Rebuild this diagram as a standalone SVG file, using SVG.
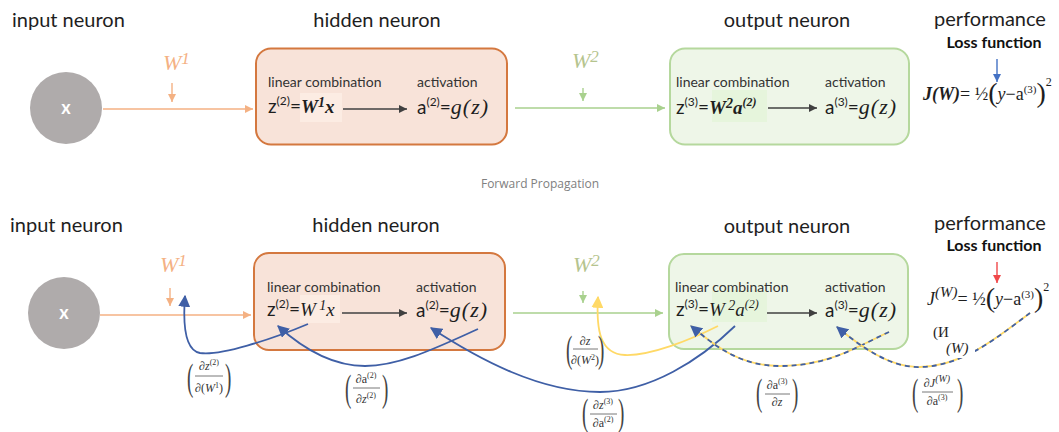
<svg xmlns="http://www.w3.org/2000/svg" width="1059" height="432" viewBox="0 0 1059 432">
<style>
.hdr{font-family:Lato,"Open Sans",sans-serif;font-size:20px;fill:#1e1e1e}
.loss{font-family:Lato,"Open Sans",sans-serif;font-size:16px;font-weight:bold;fill:#111}
.sub{font-family:Lato,"Open Sans",sans-serif;font-size:14px;fill:#333}
.eq{font-family:Lato,"Open Sans",sans-serif;font-size:19px;fill:#1e1e1e}
.sup{font-size:12px}
.mi{font-family:"Liberation Serif",serif;font-style:italic}
.mb{font-family:"Liberation Serif",serif;font-style:italic;font-weight:bold}
.ser{font-family:"Liberation Serif",serif;fill:#1e1e1e}
.lbl{font-family:"Liberation Serif",serif;font-size:12px;fill:#333}
.par{font-family:"Liberation Serif",serif;font-size:38px;fill:#444}
.w1{font-family:"Liberation Serif",serif;font-style:italic;font-size:22px;fill:#f4b183}
.w2{font-family:"Liberation Serif",serif;font-style:italic;font-size:22px;fill:#b5c48e}
.hbox{fill:#f8e3d9;stroke:#d4783f;stroke-width:2}
.obox{fill:#eef6e8;stroke:#b5d89d;stroke-width:2}
.neuron{fill:#afabab}
.xl{font-family:Lato,sans-serif;font-size:18px;font-weight:bold;fill:#fff;text-anchor:middle}
.fl{stroke:#555;stroke-width:0.8}
.blue{fill:none;stroke:#3f5fa6;stroke-width:1.8}
.yel{fill:none;stroke:#ffd966;stroke-width:1.8}
.dash{fill:none;stroke:#3f5fa6;stroke-width:1.8;stroke-dasharray:5 4}
</style>
<defs>
<marker id="aOr" viewBox="0 0 10 10" refX="10" refY="5" markerWidth="8" markerHeight="8" markerUnits="userSpaceOnUse" orient="auto"><path d="M0,0L10,5L0,10z" fill="#f4b183"/></marker>
<marker id="aGr" viewBox="0 0 10 10" refX="10" refY="5" markerWidth="8" markerHeight="8" markerUnits="userSpaceOnUse" orient="auto"><path d="M0,0L10,5L0,10z" fill="#a9d18e"/></marker>
<marker id="aDk" viewBox="0 0 10 10" refX="10" refY="5" markerWidth="8" markerHeight="8" markerUnits="userSpaceOnUse" orient="auto"><path d="M0,0L10,5L0,10z" fill="#404040"/></marker>
<marker id="aBl" viewBox="0 0 10 10" refX="10" refY="5" markerWidth="8" markerHeight="8" markerUnits="userSpaceOnUse" orient="auto"><path d="M0,0L10,5L0,10z" fill="#4472c4"/></marker>
<marker id="aRd" viewBox="0 0 10 10" refX="10" refY="5" markerWidth="8" markerHeight="8" markerUnits="userSpaceOnUse" orient="auto"><path d="M0,0L10,5L0,10z" fill="#f0484a"/></marker>
<marker id="aNv" viewBox="0 0 10 10" refX="9" refY="5" markerWidth="12" markerHeight="12" markerUnits="userSpaceOnUse" orient="auto"><path d="M0,0L10,5L0,10z" fill="#3f5fa6"/></marker>
<marker id="aYl" viewBox="0 0 10 10" refX="9" refY="5" markerWidth="12" markerHeight="12" markerUnits="userSpaceOnUse" orient="auto"><path d="M0,0L10,5L0,10z" fill="#ffd966"/></marker>
</defs>
<rect width="1059" height="432" fill="#fff"/>

<!-- TOP: forward propagation -->
<g id="input-top">
<text class="hdr" x="12" y="27">input neuron</text>
<circle class="neuron" cx="66" cy="108" r="36"/>
<text class="xl" x="66" y="114">x</text>
</g>
<g id="w1-top"><text class="w1" x="163" y="70">W<tspan font-size="17" dy="-6">1</tspan></text></g>
<g id="hidden-top">
<text class="hdr" x="377" y="27" text-anchor="middle">hidden neuron</text>
<rect class="hbox" x="256" y="48.5" width="251" height="96" rx="15"/>
<rect x="300" y="93" width="42" height="29" fill="#fcece3"/>
<text class="sub" x="268" y="87">linear combination</text>
<text class="sub" x="417" y="87">activation</text>
<text class="eq" x="268" y="113">z<tspan class="sup" dy="-8">(2)</tspan><tspan dy="8">=</tspan><tspan class="mb">W</tspan><tspan class="mb" font-size="14" dy="-6">1</tspan><tspan class="mb" dy="6">x</tspan></text>
<text class="eq" x="417" y="114">a<tspan class="sup" dy="-8">(2)</tspan><tspan dy="8">=</tspan><tspan class="mi" font-size="22" letter-spacing="1">g(z)</tspan></text>
</g>
<g id="w2-top"><text class="w2" x="572" y="68">W<tspan font-size="17" dy="-6">2</tspan></text></g>
<g id="output-top">
<text class="hdr" x="787" y="27" text-anchor="middle">output neuron</text>
<rect class="obox" x="670" y="48.5" width="239" height="96" rx="15"/>
<rect x="712" y="90" width="55" height="32" fill="#e6f5dc"/>
<text class="sub" x="676" y="87">linear combination</text>
<text class="sub" x="825" y="87">activation</text>
<text class="eq" x="676" y="114">z<tspan class="sup" dy="-8">(3)</tspan><tspan dy="8">=</tspan><tspan class="mb">W</tspan><tspan class="mb" font-size="14" dy="-6">2</tspan><tspan class="mb" dy="6">a</tspan><tspan class="mb sup" dy="-8">(2)</tspan></text>
<text class="eq" x="825" y="114">a<tspan class="sup" dy="-8">(3)</tspan><tspan dy="8">=</tspan><tspan class="mi" font-size="22" letter-spacing="1">g(z)</tspan></text>
</g>
<g id="performance-top">
<text class="hdr" x="990" y="26" text-anchor="middle">performance</text>
<text class="loss" x="994" y="48" text-anchor="middle">Loss function</text>
<text class="ser" x="923" y="100" font-size="18"><tspan font-weight="bold" font-style="italic">J(W)</tspan>= ½<tspan font-size="28" dy="2">(</tspan><tspan font-style="italic" dy="-2">y</tspan>−a<tspan font-size="11" dy="-7">(3)</tspan><tspan font-size="28" dy="9">)</tspan><tspan font-size="12" dy="-16">2</tspan></text>
</g>
<g id="caption"><text x="540" y="188" text-anchor="middle" font-family="'Open Sans',Lato,sans-serif" font-size="12" fill="#808080">Forward Propagation</text></g>

<!-- BOTTOM: back propagation -->
<g id="input-bottom">
<text class="hdr" x="10" y="232">input neuron</text>
<circle class="neuron" cx="64" cy="313" r="36"/>
<text class="xl" x="64" y="319">x</text>
</g>
<g id="w1-bottom"><text class="w1" x="160" y="272">W<tspan font-size="17" dy="-6">1</tspan></text></g>
<g id="hidden-bottom">
<text class="hdr" x="376" y="232" text-anchor="middle">hidden neuron</text>
<rect class="hbox" x="254" y="253" width="251" height="97" rx="15"/>
<rect x="300" y="295" width="40" height="28" fill="#fcece3"/>
<text class="sub" x="267" y="292">linear combination</text>
<text class="sub" x="416" y="292">activation</text>
<text class="eq" x="267" y="316">z<tspan class="sup" dy="-8">(2)</tspan><tspan dy="8">=</tspan><tspan class="mi">W</tspan><tspan class="mi" font-size="14" dy="-6"> 1</tspan><tspan class="mi" dy="6">x</tspan></text>
<text class="eq" x="416" y="317">a<tspan class="sup" dy="-8">(2)</tspan><tspan dy="8">=</tspan><tspan class="mi" font-size="22" letter-spacing="1">g(z)</tspan></text>
</g>
<g id="w2-bottom"><text class="w2" x="573" y="272">W<tspan font-size="17" dy="-6">2</tspan></text></g>
<g id="output-bottom">
<text class="hdr" x="787" y="233" text-anchor="middle">output neuron</text>
<rect class="obox" x="669" y="254" width="239" height="95" rx="15"/>
<rect x="712" y="290" width="55" height="32" fill="#e6f5dc"/>
<text class="sub" x="675" y="292">linear combination</text>
<text class="sub" x="825" y="292">activation</text>
<text class="eq" x="676" y="316">z<tspan class="sup" dy="-8">(3)</tspan><tspan dy="8">=</tspan><tspan class="mi">W</tspan><tspan class="mi" font-size="14" dy="-6"> 2</tspan><tspan class="mi" dy="6">a</tspan><tspan class="mi sup" dy="-8">(2)</tspan></text>
<text class="eq" x="825" y="317">a<tspan class="sup" dy="-8">(3)</tspan><tspan dy="8">=</tspan><tspan class="mi" font-size="22" letter-spacing="1">g(z)</tspan></text>
</g>
<g id="performance-bottom">
<text class="hdr" x="990" y="230" text-anchor="middle">performance</text>
<text class="loss" x="994" y="251" text-anchor="middle">Loss function</text>
<text class="ser" x="927" y="305" font-size="18"><tspan font-style="italic">J</tspan><tspan font-style="italic" font-size="15" dy="-8">(W)</tspan><tspan dy="8">= ½</tspan><tspan font-size="28" dy="2">(</tspan><tspan font-style="italic" dy="-2">y</tspan>−a<tspan font-size="11" dy="-7">(3)</tspan><tspan font-size="28" dy="9">)</tspan><tspan font-size="12" dy="-16">2</tspan></text>
</g>

<!-- connectors -->
<g id="connectors">
<line x1="103" y1="109" x2="253" y2="109" stroke="#f4b183" stroke-width="1.6" marker-end="url(#aOr)"/>
<line x1="172" y1="83" x2="172" y2="102" stroke="#f4b183" stroke-width="1.4" marker-end="url(#aOr)"/>
<line x1="343" y1="109" x2="407" y2="109" stroke="#404040" stroke-width="1.4" marker-end="url(#aDk)"/>
<line x1="515" y1="108" x2="665" y2="108" stroke="#a9d18e" stroke-width="1.6" marker-end="url(#aGr)"/>
<line x1="583" y1="88" x2="583" y2="101" stroke="#a9d18e" stroke-width="1.4" marker-end="url(#aGr)"/>
<line x1="768" y1="108" x2="817" y2="108" stroke="#404040" stroke-width="1.4" marker-end="url(#aDk)"/>
<line x1="997" y1="59" x2="997" y2="82" stroke="#4472c4" stroke-width="1.4" marker-end="url(#aBl)"/>

<line x1="100" y1="315" x2="251" y2="315" stroke="#f4b183" stroke-width="1.6" marker-end="url(#aOr)"/>
<line x1="170" y1="288" x2="170" y2="306" stroke="#f4b183" stroke-width="1.4" marker-end="url(#aOr)"/>
<line x1="342" y1="313" x2="407" y2="313" stroke="#404040" stroke-width="1.4" marker-end="url(#aDk)"/>
<line x1="513" y1="313" x2="663" y2="313" stroke="#a9d18e" stroke-width="1.6" marker-end="url(#aGr)"/>
<line x1="583" y1="291" x2="583" y2="303" stroke="#a9d18e" stroke-width="1.4" marker-end="url(#aGr)"/>
<line x1="767" y1="313" x2="817" y2="313" stroke="#404040" stroke-width="1.4" marker-end="url(#aDk)"/>
<line x1="997" y1="262" x2="997" y2="283" stroke="#f0484a" stroke-width="1.4" marker-end="url(#aRd)"/>

<path class="blue" d="M308,324 C270,340 220,356 200,353 C184,350 183,322 185,296" marker-end="url(#aNv)"/>
<path class="blue" d="M478,329 C440,346 400,366 365,366 C330,366 300,346 278,326" marker-end="url(#aNv)"/>
<path class="blue" d="M735,326 C700,360 650,392 600,392 C540,392 480,360 431,328" marker-end="url(#aNv)"/>
<path class="yel" d="M718,326 C690,340 650,356 625,355 C600,354 596,330 598,297" marker-end="url(#aYl)"/>
<path class="yel" d="M889,332 C860,345 830,366 780,366 C740,366 715,346 691,326"/>
<path class="dash" d="M889,332 C860,345 830,366 780,366 C740,366 715,346 691,326" marker-end="url(#aNv)"/>
<path class="yel" d="M1030,313 C1000,335 965,366 920,367 C890,368 860,346 837,327"/>
<path class="dash" d="M1030,313 C1000,335 965,366 920,367 C890,368 860,346 837,327" marker-end="url(#aNv)"/>
</g>

<!-- stray labels over the curve -->
<g id="stray-labels">
<rect x="944" y="338" width="31" height="20" fill="#fff"/>
<text class="ser" x="933" y="337" font-size="15">(И</text>
<text class="ser" x="946" y="353" font-size="15" font-style="italic">(W)</text>
</g>

<!-- derivative labels -->
<g id="label-dz2-dW1">
<text class="par" transform="translate(187,390) scale(0.5,1)">(</text>
<text class="par" transform="translate(225,390) scale(0.5,1)">)</text>
<text class="lbl" x="209" y="370" text-anchor="middle">∂<tspan font-style="italic">z</tspan><tspan font-size="8" dy="-5">(2)</tspan></text>
<line class="fl" x1="195" y1="376" x2="223" y2="376"/>
<text class="lbl" x="209" y="392" text-anchor="middle">∂(<tspan font-style="italic">W</tspan><tspan font-size="8" dy="-4">1</tspan><tspan dy="4">)</tspan></text>
</g>
<g id="label-da2-dz2">
<text class="par" transform="translate(345,401) scale(0.5,1)">(</text>
<text class="par" transform="translate(382,401) scale(0.5,1)">)</text>
<text class="lbl" x="366" y="383" text-anchor="middle">∂a<tspan font-size="8" dy="-5">(2)</tspan></text>
<line class="fl" x1="353" y1="388" x2="380" y2="388"/>
<text class="lbl" x="366" y="403" text-anchor="middle">∂<tspan font-style="italic">z</tspan><tspan font-size="8" dy="-5">(2)</tspan></text>
</g>
<g id="label-dz-dW2">
<text class="par" transform="translate(566,362) scale(0.5,1)">(</text>
<text class="par" transform="translate(598,362) scale(0.5,1)">)</text>
<text class="lbl" x="585" y="345" text-anchor="middle">∂<tspan font-style="italic">z</tspan></text>
<line class="fl" x1="573" y1="349" x2="598" y2="349"/>
<text class="lbl" x="585" y="364" text-anchor="middle">∂(<tspan font-style="italic">W</tspan><tspan font-size="8" dy="-4">2</tspan><tspan dy="4">)</tspan></text>
</g>
<g id="label-dz3-da2">
<text class="par" transform="translate(582,425) scale(0.5,1)">(</text>
<text class="par" transform="translate(618,425) scale(0.5,1)">)</text>
<text class="lbl" x="603" y="409" text-anchor="middle">∂<tspan font-style="italic">z</tspan><tspan font-size="8" dy="-5">(3)</tspan></text>
<line class="fl" x1="590" y1="414" x2="617" y2="414"/>
<text class="lbl" x="603" y="427" text-anchor="middle">∂a<tspan font-size="8" dy="-5">(2)</tspan></text>
</g>
<g id="label-da3-dz">
<text class="par" transform="translate(756,405) scale(0.5,1)">(</text>
<text class="par" transform="translate(792,405) scale(0.5,1)">)</text>
<text class="lbl" x="777" y="389" text-anchor="middle">∂a<tspan font-size="8" dy="-5">(3)</tspan></text>
<line class="fl" x1="765" y1="394" x2="790" y2="394"/>
<text class="lbl" x="777" y="406" text-anchor="middle">∂<tspan font-style="italic">z</tspan></text>
</g>
<g id="label-dJ-da3">
<text class="par" transform="translate(912,405) scale(0.5,1)">(</text>
<text class="par" transform="translate(957,405) scale(0.5,1)">)</text>
<text class="lbl" x="937" y="387" text-anchor="middle">∂<tspan font-style="italic">J</tspan><tspan font-style="italic" font-size="10" dy="-5">(W)</tspan></text>
<line class="fl" x1="922" y1="392" x2="953" y2="392"/>
<text class="lbl" x="937" y="405" text-anchor="middle">∂a<tspan font-size="8" dy="-5">(3)</tspan></text>
</g>
</svg>
